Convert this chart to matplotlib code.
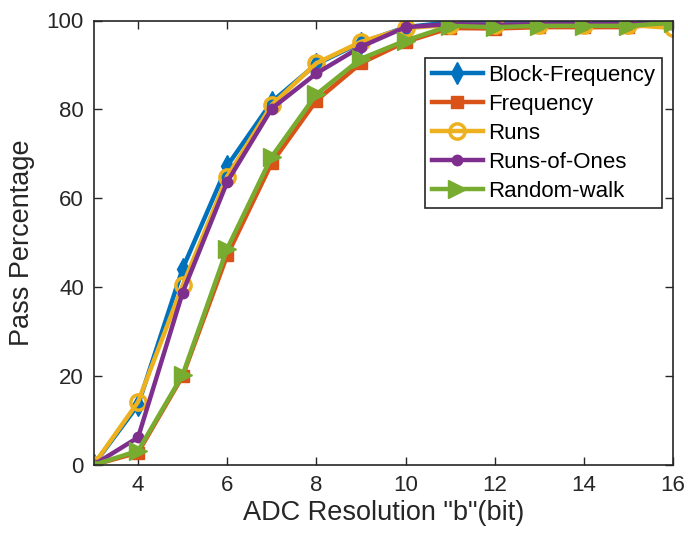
import matplotlib
matplotlib.use("Agg")
import matplotlib.pyplot as plt

plt.rcParams['font.family'] = ['Liberation Sans', 'DejaVu Sans']

# ADC resolution (bits)
bits = [3, 4, 5, 6, 7, 8, 9, 10, 11, 12, 13, 14, 15, 16]

# Pass percentage for each NIST test
block_freq = [0, 13.5, 44.2, 67.3, 81.7, 90.2, 95.0, 98.5, 99.6, 99.6, 99.6, 99.6, 99.6, 100]
frequency = [0, 2.8, 20.0, 47.2, 68.0, 82.0, 90.4, 95.2, 98.3, 98.2, 98.5, 98.5, 98.5, 99.5]
runs = [0, 14.2, 40.4, 64.9, 81.0, 90.4, 95.2, 98.3, 99.0, 99.0, 99.0, 99.0, 99.0, 98.3]
runs_ones = [0, 6.2, 38.8, 63.7, 80.2, 88.1, 94.1, 98.5, 99.2, 99.0, 99.2, 99.2, 99.2, 99.5]
random_walk = [0, 3.2, 20.3, 48.7, 69.4, 83.4, 91.4, 95.5, 98.8, 98.5, 98.8, 98.8, 98.8, 99.5]

labels = ["Block-Frequency", "Frequency", "Runs", "Runs-of-Ones", "Random-walk"]
colors = ["#0072BD", "#D95319", "#EDB120", "#7E2F8E", "#77AC30"]

fig = plt.figure(figsize=(6.88, 5.37), dpi=100)
ax = fig.add_axes([93.5 / 688, (537 - 465) / 537, 579.5 / 688, 444.5 / 537])

lw = 3.2
ax.plot(bits, block_freq, color=colors[0], lw=lw, marker="d", ms=11, label=labels[0])
ax.plot(bits, frequency, color=colors[1], lw=lw, marker="s", ms=8.5, label=labels[1])
ax.plot(bits, runs, color=colors[2], lw=lw, marker="o", ms=11, mfc="none", mew=2.5, label=labels[2])
ax.plot(bits, runs_ones, color=colors[3], lw=lw, marker="o", ms=7.5, label=labels[3])
ax.plot(bits, random_walk, color=colors[4], lw=lw, marker=">", ms=13, label=labels[4])

ax.set_xlim(3, 16)
ax.set_ylim(0, 100)
ax.set_xticks([4, 6, 8, 10, 12, 14, 16])
ax.set_yticks([0, 20, 40, 60, 80, 100])

tc = "#262626"
for s in ax.spines.values():
    s.set_color(tc)
    s.set_linewidth(1.2)
ax.tick_params(direction="in", top=True, right=True, labelsize=16, colors=tc,
               length=6, width=1, pad=7)
for lab in ax.get_xticklabels() + ax.get_yticklabels():
    lab.set_color(tc)

ax.set_xlabel('ADC Resolution "b"(bit)', fontsize=19.5, color=tc, labelpad=3)
ax.set_ylabel("Pass Percentage", fontsize=19.5, color=tc, labelpad=8)

leg = ax.legend(loc="upper right", bbox_to_anchor=(0.981, 0.916), borderaxespad=0,
                fontsize=16, handlelength=2.3, labelspacing=0.36, handletextpad=0.25,
                borderpad=0.3, fancybox=False, framealpha=1)
leg.get_frame().set_edgecolor(tc)
leg.get_frame().set_linewidth(1.2)

fig.savefig("out.png", dpi=100)
